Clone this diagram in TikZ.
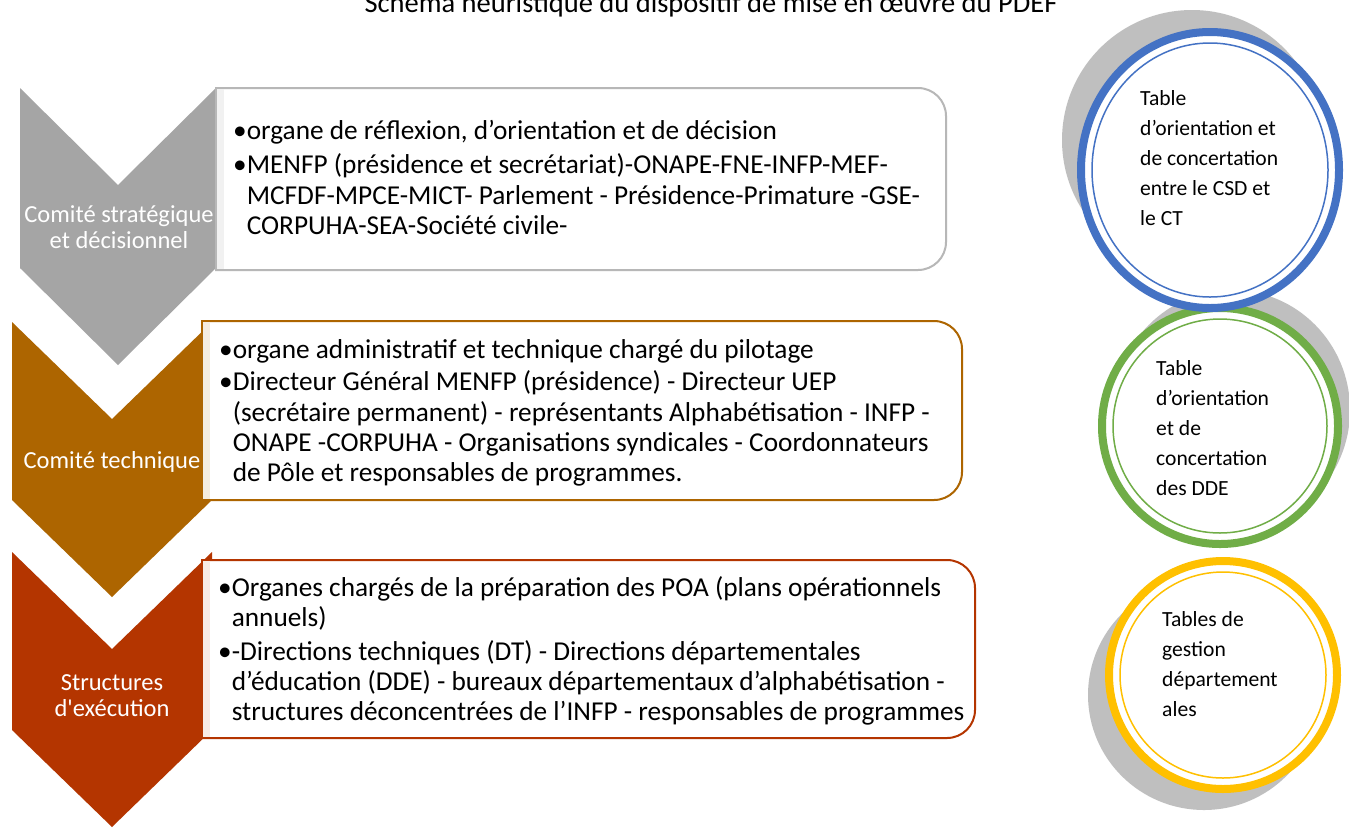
\documentclass[tikz,border=0pt]{standalone}
\usepackage{fontspec}
\setmainfont{Carlito}
\usepackage{tikz}

\definecolor{csdgray}{HTML}{A5A5A5}
\definecolor{ctbrown}{HTML}{AD6500}
\definecolor{exred}{HTML}{B43500}
\definecolor{shadegray}{HTML}{BFBFBF}
\definecolor{ringblue}{HTML}{4472C4}
\definecolor{ringgreen}{HTML}{70AD47}
\definecolor{ringgold}{HTML}{FFC000}

\newcommand{\itemdot}{\textbullet}
\newcommand{\itemgap}{\phantom{\textbullet}}

\tikzset{
  chevlabel/.style={text=white, align=center, font=\fontsize{24.5}{26}\selectfont},
  desctext/.style={anchor=north west, inner sep=0pt, align=left, font=\fontsize{27.3}{30.3}\selectfont},
  tabletext/.style={anchor=north west, inner sep=0pt, align=left, font=\fontsize{21.6}{30}\selectfont},
}

\begin{document}
\begin{tikzpicture}[x=1pt, y=-1pt]
    \useasboundingbox (0,0) rectangle (1349,831);
    \clip (0,0) rectangle (1349,831);
    \fill[white] (0,0) rectangle (1349,831);

    % title, cut at the top edge
    \node[font=\fontsize{28.5}{30}\selectfont, anchor=base] (title) at (711,12) {Schéma heuristique du dispositif de mise en œuvre du PDEF};

    % chevrons
    \fill[csdgray] (20,88) -- (118,185) -- (216,88) -- (216,268) -- (118,365) -- (20,268) -- cycle;
    \fill[ctbrown] (12,322) -- (112,419) -- (212,322) -- (212,500) -- (112,597) -- (12,500) -- cycle;
    \fill[exred] (12,552) -- (112,649) -- (212,552) -- (212,730) -- (112,827) -- (12,730) -- cycle;

    \node[chevlabel] (csd) at (119,227) {Comité stratégique\\et décisionnel};
    \node[chevlabel] (ct) at (112,462) {Comité technique};
    \node[chevlabel] (se) at (112,696) {Structures\\d\textquotesingle exécution};

    % boxes
    \filldraw[fill=white, draw=csdgray!80, line width=2] (216,88) -- (918,88) arc[start angle=-90, end angle=0, radius=28]
        -- (946,242) arc[start angle=0, end angle=90, radius=28] -- (216,270) -- cycle;
    \fill[csdgray!15] (217,89) rectangle (224,269);
    \filldraw[fill=white, draw=ctbrown, line width=2] (202,321) -- (934,321) arc[start angle=-90, end angle=0, radius=28]
        -- (962,472) arc[start angle=0, end angle=90, radius=28] -- (202,500) -- cycle;
    \fill[ctbrown!12] (203,322) rectangle (210,499);
    \filldraw[fill=white, draw=exred, line width=2] (202,560) -- (947,560) arc[start angle=-90, end angle=0, radius=28]
        -- (975,710) arc[start angle=0, end angle=90, radius=28] -- (202,738) -- cycle;
    \fill[exred!10] (203,561) rectangle (210,737);

    \node[desctext] (desc1) at (233,120.5) {\itemdot organe de réflexion, d’orientation et de décision\\[3.5pt]
        \itemdot MENFP (présidence et secrétariat)-ONAPE-FNE-INFP-MEF-\\
        \itemgap MCFDF-MPCE-MICT- Parlement - Présidence-Primature -GSE-\\
        \itemgap CORPUHA-SEA-Société civile-};
    \node[desctext] (desc2) at (219,339.5) {\itemdot organe administratif et technique chargé du pilotage\\[2pt]
        \itemdot Directeur Général MENFP (présidence) - Directeur UEP\\
        \itemgap (secrétaire permanent) - représentants Alphabétisation - INFP -\\
        \itemgap ONAPE -CORPUHA - Organisations syndicales - Coordonnateurs\\
        \itemgap de Pôle et responsables de programmes.};
    \node[desctext] (desc3) at (218,576.5) {\itemdot Organes chargés de la préparation des POA (plans opérationnels\\
        \itemgap annuels)\\[3pt]
        \itemdot -Directions techniques (DT) - Directions départementales\\
        \itemgap d’éducation (DDE) - bureaux départementaux d’alphabétisation -\\
        \itemgap structures déconcentrées de l’INFP - responsables de programmes};

    % tables: grey shadows, then rings
    \fill[shadegray] (1192,140) ellipse[x radius=130, y radius=130];
    \fill[shadegray] (1232,410) ellipse[x radius=118, y radius=120];
    \fill[shadegray] (1204,695) ellipse[x radius=116, y radius=115];

    \filldraw[fill=white, draw=ringgold, line width=8] (1223,675) ellipse[x radius=114, y radius=114];
    \draw[ringgold, line width=1.5] (1223,675) ellipse[x radius=103, y radius=103];
    \filldraw[fill=white, draw=ringgreen, line width=8] (1220,426) ellipse[x radius=118, y radius=118];
    \draw[ringgreen, line width=1.5] (1220,426) ellipse[x radius=107, y radius=107];
    \filldraw[fill=white, draw=ringblue, line width=8] (1210,170) ellipse[x radius=129, y radius=138];
    \draw[ringblue, line width=1.5] (1210,170) ellipse[x radius=118, y radius=127];

    \node[tabletext] (tab1) at (1140,90.5) {Table\\d’orientation et\\de concertation\\entre le CSD et\\le CT};
    \node[tabletext] (tab2) at (1156,360.5) {Table\\d’orientation\\et de\\concertation\\des DDE};
    \node[tabletext] (tab3) at (1162,611.5) {Tables de\\gestion\\département\\ales};
\end{tikzpicture}
\end{document}
